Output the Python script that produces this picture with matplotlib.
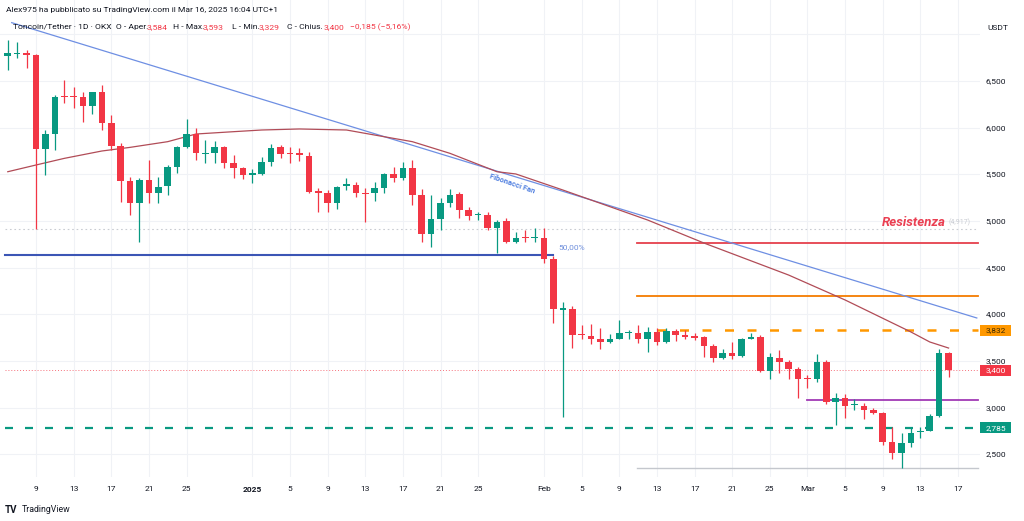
import matplotlib
matplotlib.use('Agg')
import matplotlib.pyplot as plt
import matplotlib.transforms as mtransforms
from matplotlib.patches import Rectangle
import numpy as np
import pandas as pd

plt.rcParams['font.family'] = ['Roboto', 'DejaVu Sans']

# ---------------- DATA ----------------
start_date = '2024-12-06'
opens = [6770, 6785, 6800, 6775, 5771, 5929, 6335, 6335, 6325, 6235, 6379, 6047, 5807, 5429, 5190, 5439,
         5304, 5375, 5582, 5789, 5932, 5720, 5725, 5797, 5625, 5572,
         5495, 5504, 5636, 5789, 5725, 5722, 5696, 5315, 5296, 5190, 5375, 5386, 5300, 5296, 5350, 5504,
         5464, 5572, 5279, 4857, 5018, 5190, 5286, 5118, 5060, 5064, 4922, 5000, 4771, 4825, 4815,
         4814, 4589, 4047, 4057, 3785, 3768, 3732, 3707, 3732, 3800, 3804, 3736, 3814, 3700, 3821, 3779,
         3768, 3754, 3661, 3536, 3589, 3554, 3739, 3761, 3397, 3536, 3486, 3411,
         3315, 3311, 3493, 3064, 3100, 3025, 3021, 2975, 2939, 2636, 2511, 2625, 2736, 2754, 2911, 3584]
highs = [6939, 6921, 6832, 6790, 5975, 6350, 6511, 6439, 6386, 6386, 6457, 6136, 5832, 5475, 5464, 5654,
         5475, 5600, 5804, 6090, 5993, 5868, 5861, 5800, 5707, 5582,
         5554, 5689, 5822, 5815, 5789, 5786, 5743, 5350, 5329, 5375, 5464, 5418, 5350, 5421, 5511, 5582,
         5636, 5654, 5340, 5279, 5243, 5340, 5314, 5150, 5100, 5100, 5011, 5029, 4886, 4907, 4925,
         4922, 4625, 4136, 4089, 3886, 3893, 3850, 3793, 3939, 3836, 3882, 3861, 3850, 3857, 3843, 3836,
         3800, 3768, 3682, 3625, 3707, 3743, 3797, 3779, 3582, 3618, 3511, 3439,
         3350, 3575, 3511, 3161, 3146, 3090, 3046, 2993, 2954, 2796, 2725, 2779, 2796, 2929, 3625, 3593]
lows = [6618, 6743, 6636, 4917, 5493, 5761, 6264, 6207, 6064, 6150, 5975, 5761, 5207, 5064, 4772, 5190,
        5190, 5279, 5511, 5779, 5654, 5618, 5618, 5568, 5457, 5450,
        5404, 5493, 5593, 5675, 5625, 5640, 5296, 5100, 5093, 5125, 5332, 5254, 4993, 5218, 5304, 5421,
        5439, 5172, 4778, 4725, 4904, 5154, 5029, 5011, 5011, 4904, 4661, 4761, 4761, 4779, 4779,
        4554, 3911, 2904, 3636, 3732, 3682, 3625, 3690, 3732, 3732, 3693, 3593, 3672, 3697, 3718, 3732,
        3720, 3543, 3486, 3525, 3518, 3547, 3732, 3386, 3311, 3375, 3311, 3107,
        3207, 3279, 3039, 2814, 2886, 2975, 2875, 2932, 2600, 2446, 2350, 2582, 2671, 2750, 2896, 3329]
closes = [6800, 6798, 6775, 5771, 5929, 6332, 6325, 6325, 6235, 6379, 6047, 5807, 5429, 5190, 5439, 5304,
          5368, 5582, 5789, 5932, 5725, 5730, 5797, 5625, 5570, 5493,
          5515, 5636, 5786, 5718, 5715, 5712, 5307, 5305, 5190, 5368, 5397, 5296, 5292, 5350, 5504, 5464,
          5572, 5279, 4857, 5018, 5190, 5279, 5118, 5054, 5068, 4922, 4993, 4771, 4814, 4815, 4825,
          4593, 4054, 4068, 3779, 3775, 3732, 3707, 3732, 3797, 3808, 3736, 3814, 3700, 3821, 3779, 3761,
          3743, 3661, 3536, 3589, 3554, 3732, 3761, 3397, 3540, 3486, 3411, 3311,
          3308, 3486, 3064, 3107, 3021, 3032, 2975, 2939, 2636, 2511, 2625, 2732, 2750, 2911, 3584, 3400]

ma_dates = ['2024-12-06', '2024-12-09', '2024-12-12', '2024-12-16', '2024-12-19', '2024-12-23', '2024-12-26',
            '2024-12-30', '2025-01-02', '2025-01-06', '2025-01-11', '2025-01-14', '2025-01-18', '2025-01-22',
            '2025-01-27', '2025-01-29', '2025-02-03', '2025-02-12', '2025-02-18', '2025-02-27', '2025-03-05',
            '2025-03-12', '2025-03-14', '2025-03-16']
ma_values = [5528, 5600, 5671, 5750, 5789, 5850, 5932, 5957, 5975, 5986, 5975, 5921, 5850, 5725,
             5528, 5504, 5332, 5011, 4764, 4421, 4154, 3811, 3704, 3639]

fan_dates = ['2024-12-06 10:00', '2025-03-19 00:00']
fan_prices = [7125, 3961]

resist_level = 4764
orange_level = 4196
orange_dash_level = 3832
last_price = 3400
purple_level = 3082
support_level = 2785
range_low_level = 2354
fib50_level = 4636
prior_low_level = 4917

zone_start = '2025-02-10 22:00'
orange_dash_start = '2025-02-13'
purple_start = '2025-03-01'
fib50_end = '2025-02-01 22:00'

price_ticks = [2500, 3000, 3500, 4000, 4500, 5000, 5500, 6000, 6500]
tick_dates = ['2024-12-09', '2024-12-13', '2024-12-17', '2024-12-21', '2024-12-25', '2025-01-01',
              '2025-01-05', '2025-01-09', '2025-01-13', '2025-01-17', '2025-01-21', '2025-01-25',
              '2025-02-01', '2025-02-05', '2025-02-09', '2025-02-13', '2025-02-17', '2025-02-21',
              '2025-02-25', '2025-03-01', '2025-03-05', '2025-03-09', '2025-03-13', '2025-03-17']
tick_labels = ['9', '13', '17', '21', '25', '2025', '5', '9', '13', '17', '21', '25',
               'Feb', '5', '9', '13', '17', '21', '25', 'Mar', '5', '9', '13', '17']

# ---------------- HELPERS ----------------
t0 = pd.Timestamp(start_date)


def di(d):
    return (pd.Timestamp(d) - t0) / pd.Timedelta('1D')


W, H = 1024, 521
fig = plt.figure(figsize=(W / 100, H / 100), dpi=100)
fig.patch.set_facecolor('white')

ax_bottom_px = 477
ax_right_px = 980
ax = fig.add_axes([0, 1 - ax_bottom_px / H, ax_right_px / W, ax_bottom_px / H])
ax.set_facecolor('white')

px_per_day = 9.408
x_dec9_px = 36
p_per_px = 10.714
y6500_px = 81
ax.set_xlim(3 - x_dec9_px / px_per_day, 3 + (ax_right_px - x_dec9_px) / px_per_day)
ax.set_ylim(6500 - (ax_bottom_px - y6500_px) * p_per_px, 6500 + y6500_px * p_per_px)
for s in ax.spines.values():
    s.set_visible(False)
ax.set_xticks([])
ax.set_yticks([])

GREEN = '#089981'
RED = '#f23645'

# grid
for d in tick_dates:
    ax.axvline(di(d), color='#f0f2f6', lw=0.8, zorder=0)
for p in price_ticks + [7000]:
    ax.axhline(p, color='#f0f2f6', lw=0.8, zorder=0)

# lines/levels
xl = ax.get_xlim()
x_left = xl[0] + 0.5
x_right = xl[1] - 0.2
ax.plot([x_left, x_right], [prior_low_level] * 2, color='#c9ccd2', lw=0.8, ls=(0, (1.5, 2.5)), zorder=1)
ax.plot([x_left, x_right], [last_price] * 2, color=RED, lw=0.7, ls=(0, (1, 2)), alpha=0.7, zorder=1)
ax.plot([x_left, di(fib50_end)], [fib50_level] * 2, color='#3b55b5', lw=1.5, zorder=2)
ax.plot([x_left, x_right], [support_level] * 2, color=GREEN, lw=1.6, ls=(0, (3.6, 5.4)), zorder=2)
ax.plot([di(zone_start), x_right], [resist_level] * 2, color='#e5404c', lw=1.3, zorder=2)
ax.plot([di(zone_start), x_right], [orange_level] * 2, color='#f57c00', lw=1.3, zorder=2)
ax.plot([di(orange_dash_start), x_right], [orange_dash_level] * 2, color='#ff9800', lw=1.8,
        ls=(0, (3.6, 5.4)), zorder=2)
ax.plot([di(purple_start), x_right], [purple_level] * 2, color='#a13ab5', lw=1.3, zorder=2)
ax.plot([di(zone_start), x_right], [range_low_level] * 2, color='#c4c7cd', lw=1.0, zorder=2)

# fan line and MA
ax.plot([di(d) for d in fan_dates], fan_prices, color='#6e8fe3', lw=0.9, zorder=2)
ax.plot([di(d) for d in ma_dates], ma_values, color='#b14c57', lw=0.9, zorder=2)

# candles
o = np.array(opens, float)
h = np.array(highs, float)
l = np.array(lows, float)
c = np.array(closes, float)
x = np.arange(len(o))
cols = [GREEN if cc >= oo else RED for oo, cc in zip(o, c)]
ax.vlines(x, l, h, colors=cols, lw=0.9, zorder=3)
bottoms = np.minimum(o, c)
heights = np.maximum(np.abs(c - o), 12)
ax.bar(x, heights, bottom=bottoms, width=0.7, color=cols, edgecolor=cols, lw=0, zorder=4)

# annotations
ax.text(di('2025-01-28 14:00'), 5402, 'Fibonacci Fan', color='#4f7fe0', fontsize=5.5, fontweight='bold',
        rotation=-19, rotation_mode='anchor', ha='center', va='center', zorder=5)
ax.text(di('2025-02-02 12:00'), 4721, '50,00%', color='#6f8fdc', fontsize=6, ha='left', va='center', zorder=5)
ax.text(di('2025-03-15 18:00'), 4985, 'Resistenza', color='#ea3f52', fontsize=9.5, fontweight='bold',
        fontstyle='italic', ha='right', va='center', zorder=5)
ax.text(di('2025-03-16 00:00'), 4985, '(4,917)', color='#c9ccd2', fontsize=5, ha='left', va='center', zorder=5)

# x tick labels
tr_x = mtransforms.blended_transform_factory(ax.transData, fig.transFigure)
for d, lab in zip(tick_dates, tick_labels):
    fig.text(di(d), 1 - 489 / H, lab, transform=tr_x, ha='center', va='center', fontsize=6,
             color='#131722', fontweight='bold' if lab == '2025' else 'normal')

# price axis labels
tr_y = mtransforms.blended_transform_factory(fig.transFigure, ax.transData)
for p in price_ticks:
    fig.text(996 / W, p, f'{p:,}', transform=tr_y, ha='center', va='center', fontsize=6, color='#131722')
fig.text(998 / W, 1 - 28 / H, 'USDT', ha='center', va='center', fontsize=6, color='#131722')


def price_box(val, bg, fg):
    hbox = 11 * p_per_px
    fig.add_artist(Rectangle((980 / W, val - hbox / 2), 31 / W, hbox, transform=tr_y,
                             facecolor=bg, edgecolor='none', zorder=5))
    fig.text(995.5 / W, val, f'{val:,}', transform=tr_y, ha='center', va='center', fontsize=6,
             color=fg, zorder=6)


price_box(orange_dash_level, '#ff9800', '#3d2a00')
price_box(last_price, RED, 'white')
price_box(support_level, GREEN, 'white')
# small continuation dashes near the price axis
ax.plot([di('2025-03-19 12:00'), di('2025-03-20 08:00')], [orange_dash_level] * 2, color='#ff9800', lw=1.8)

# header
fig.text(6 / W, 1 - 10 / H, 'Alex975 ha pubblicato su TradingView.com il Mar 16, 2025 16:04 UTC+1',
         fontsize=6.1, color='#131722', ha='left', va='center')
hdr = [(12.7, 'Toncoin/Tether · 1D · OKX  O - Aper.', '#131722'), (146.7, '3,584', RED),
       (172.7, 'H - Max.', '#131722'), (203, '3,593', RED), (231.7, 'L - Min.', '#131722'),
       (259, '3,329', RED), (286.7, 'C - Chius.', '#131722'), (324, '3,400', RED),
       (350, '−0,185 (−5,16%)', RED)]
for xp, s, col in hdr:
    fig.text(xp / W, 1 - 27 / H, s, fontsize=6.1, color=col, ha='left', va='center')

# logo
fig.text(5 / W, 1 - 510 / H, 'TV', fontsize=7, fontweight='bold', color='#131722', ha='left', va='center')
fig.text(22 / W, 1 - 510 / H, 'TradingView', fontsize=6.3, color='#131722', ha='left', va='center')

fig.savefig('out.png', dpi=100, facecolor='white')
